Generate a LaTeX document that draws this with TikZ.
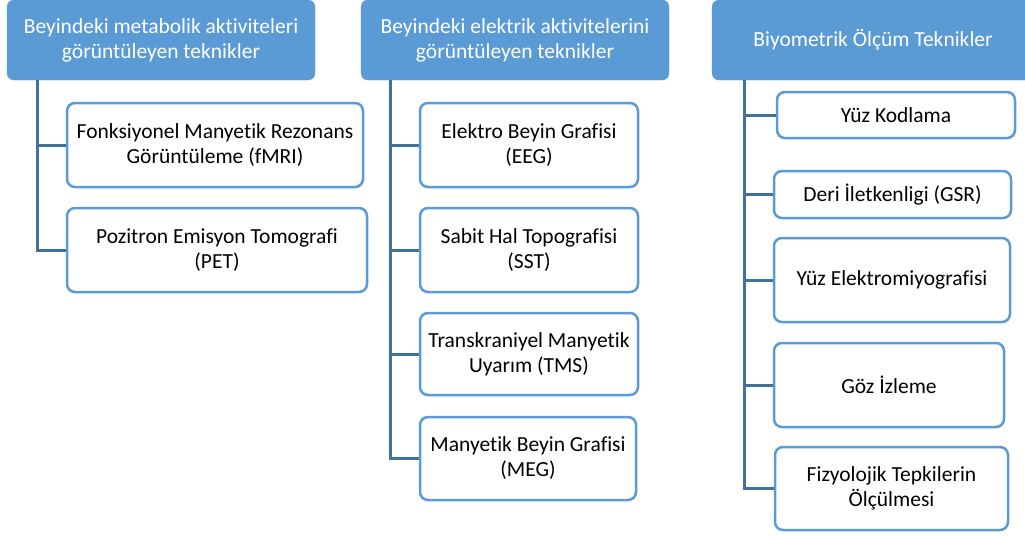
\documentclass[tikz,border=0pt]{standalone}
\usepackage{fontspec}
\setmainfont{Carlito}[Ligatures=NoCommon]
\definecolor{hdrblue}{HTML}{5B9BD5}
\definecolor{linkblue}{HTML}{41719C}
\tikzset{
  hdr/.style={draw=hdrblue, fill=hdrblue, rounded corners=7pt, text=white, align=center,
    inner sep=0pt, font=\fontsize{21.5}{25}\selectfont},
  leaf/.style={draw=hdrblue, line width=2.5pt, fill=white, rounded corners=8pt, align=center,
    inner sep=0pt, font=\fontsize{21.5}{25}\selectfont},
  link/.style={draw=linkblue, line width=3pt}
}
\begin{document}
\begin{tikzpicture}[x=1pt,y=1pt]
        \useasboundingbox (0,0) rectangle (1025,-536);

        \node[hdr, minimum width=308, minimum height=80] (metab) at (161,-40)
         {Beyindeki metabolik aktiviteleri\\görüntüleyen teknikler};
        \node[hdr, minimum width=308, minimum height=80] (elek) at (515,-40)
         {Beyindeki elektrik aktivitelerini\\görüntüleyen teknikler};
        \node[hdr, minimum width=322, minimum height=80] (biyo) at (873,-40)
         {Biyometrik Ölçüm Teknikler};

        \node[leaf, minimum width=296, minimum height=84] (fmri) at (215,-145)
         {Fonksiyonel Manyetik Rezonans\\Görüntüleme (fMRI)};
        \node[leaf, minimum width=300, minimum height=84] (pet) at (217,-250)
         {Pozitron Emisyon Tomografi\\(PET)};

        \node[leaf, minimum width=218, minimum height=84] (eeg) at (529,-145)
         {Elektro Beyin Grafisi\\(EEG)};
        \node[leaf, minimum width=218, minimum height=84] (sst) at (529,-250)
         {Sabit Hal Topografisi\\(SST)};
        \node[leaf, minimum width=218, minimum height=82] (tms) at (529,-354)
         {Transkraniyel Manyetik\\Uyarım (TMS)};
        \node[leaf, minimum width=216, minimum height=83] (meg) at (528,-458.5)
         {Manyetik Beyin Grafisi\\(MEG)};

        \node[leaf, minimum width=238, minimum height=46] (yuz) at (896,-115)
         {Yüz Kodlama};
        \node[leaf, minimum width=237, minimum height=47] (gsr) at (892.5,-194.5)
         {Deri İletkenligi (GSR)};
        \node[leaf, minimum width=236, minimum height=84] (emg) at (892,-280)
         {Yüz Elektromiyografisi};
        \node[leaf, minimum width=230, minimum height=84] (goz) at (889,-385)
         {Göz İzleme};
        \node[leaf, minimum width=233, minimum height=83] (fizyo) at (891.5,-488.5)
         {Fizyolojik Tepkilerin\\Ölçülmesi};

        \coordinate (t1) at (37,-80);
        \coordinate (t2) at (390,-80);
        \coordinate (t3) at (744,-80);

        \draw[link] (t1) |- (pet.west);
        \draw[link] (t1 |- fmri.west) -- (fmri.west);

        \draw[link] (t2) |- (meg.west);
        \foreach \n in {eeg,sst,tms}
         \draw[link] (t2 |- \n.west) -- (\n.west);

        \draw[link] (t3) |- (fizyo.west);
        \foreach \n in {yuz,gsr,emg,goz}
         \draw[link] (t3 |- \n.west) -- (\n.west);
\end{tikzpicture}
\end{document}
